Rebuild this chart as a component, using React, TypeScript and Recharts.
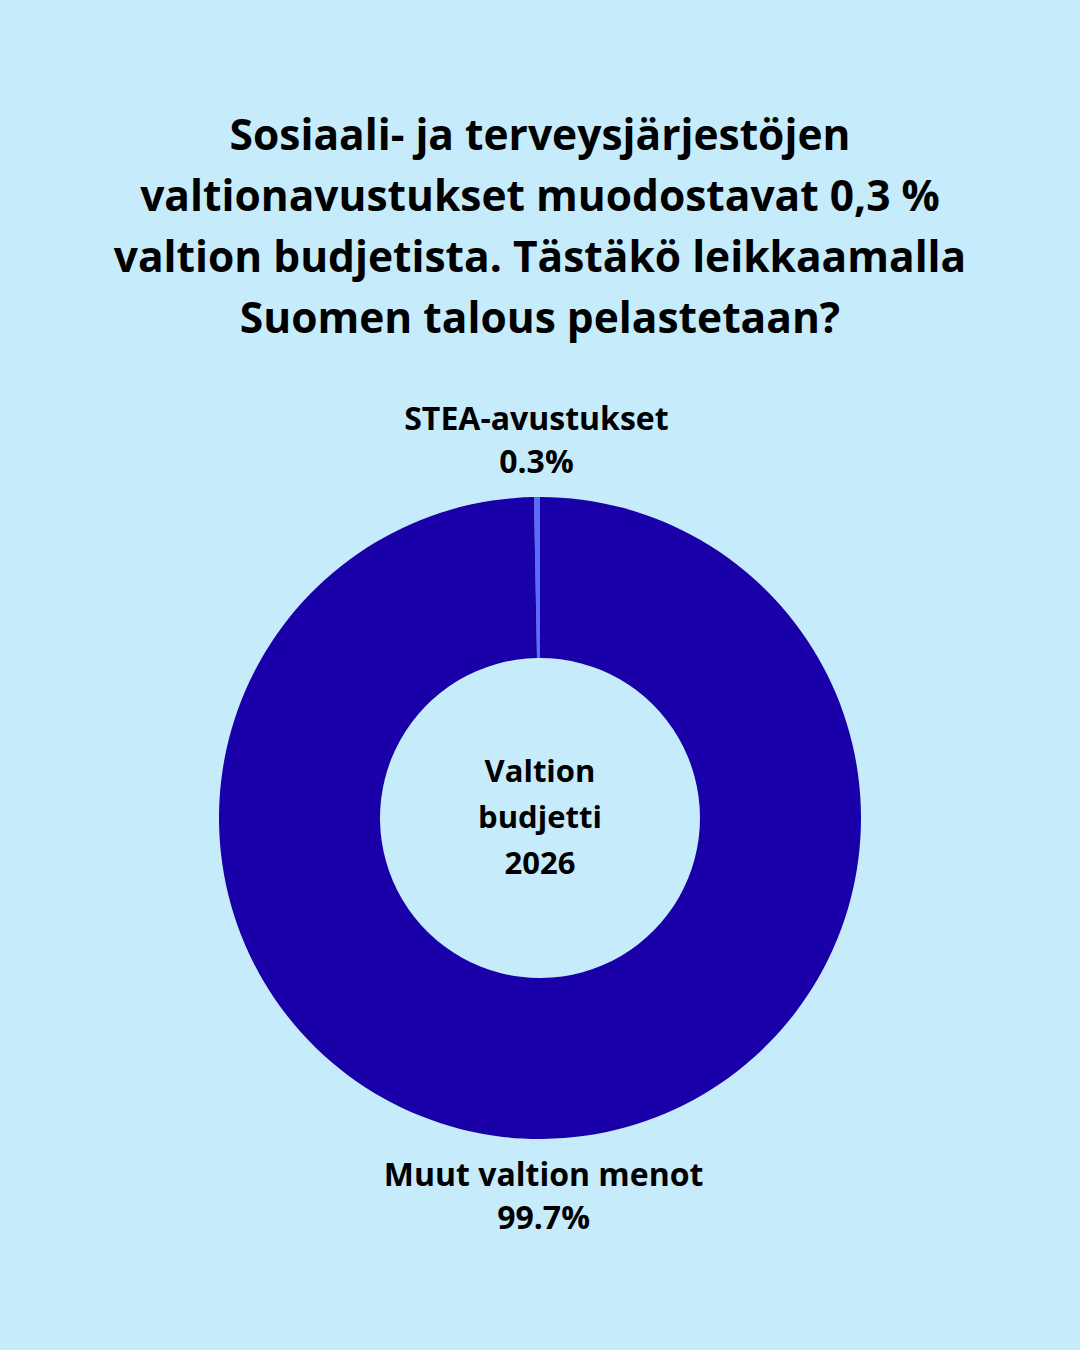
import React from 'react';
import { PieChart, Pie, Cell } from 'recharts';

const categories = ['STEA-avustukset', 'Muut valtion menot'];
const shares = [0.3, 99.7];
const sliceColors = ['#5a6cff', '#1a00a8'];

const titleLines = [
  'Sosiaali- ja terveysjärjestöjen',
  'valtionavustukset muodostavat 0,3 %',
  'valtion budjetista. Tästäkö leikkaamalla',
  'Suomen talous pelastetaan?',
];
const centerLines = ['Valtion', 'budjetti', '2026'];

const data = categories.map((name, i) => ({ name, value: shares[i] }));

const FONT = '"Open Sans", Lato, sans-serif';
const RAD = Math.PI / 180;

const renderLabel = (props: any) => {
  const { cx, cy, midAngle, outerRadius, name, value } = props;
  const r = outerRadius + 57;
  const x = cx + r * Math.cos(-midAngle * RAD);
  const y = cy + r * Math.sin(-midAngle * RAD);
  return (
    <text x={x} y={y} textAnchor="middle" fill="#000" fontFamily={FONT} fontWeight={700} fontSize={32}>
      <tspan x={x} dy={-10}>{name}</tspan>
      <tspan x={x} dy={43}>{`${value}%`}</tspan>
    </text>
  );
};

export default function App() {
  return (
    <div style={{ position: 'absolute', left: 0, top: 0, width: 1080, height: 1350, background: '#c6ebfa', overflow: 'hidden' }}>
      <div style={{ position: 'absolute', left: 0, top: 103, width: 1080, textAlign: 'center', fontFamily: FONT, fontWeight: 700, fontSize: 42.5, lineHeight: '61px', color: '#000' }}>
        {titleLines.map((l) => (
          <div key={l}>{l}</div>
        ))}
      </div>
      <div style={{ position: 'absolute', left: 0, top: 0 }}>
        <PieChart width={1080} height={1350} margin={{ top: 0, right: 0, bottom: 0, left: 0 }}>
          <Pie
            data={data}
            dataKey="value"
            nameKey="name"
            cx={540}
            cy={818}
            innerRadius={160}
            outerRadius={321}
            startAngle={90}
            endAngle={450}
            stroke="none"
            label={renderLabel}
            labelLine={false}
            isAnimationActive={false}
          >
            {data.map((d, i) => (
              <Cell key={d.name} fill={sliceColors[i]} />
            ))}
          </Pie>
        </PieChart>
      </div>
      <div style={{ position: 'absolute', left: 435, top: 747, width: 210, textAlign: 'center', fontFamily: FONT, fontWeight: 700, fontSize: 31, lineHeight: '46px', color: '#000' }}>
        {centerLines.map((l) => (
          <div key={l}>{l}</div>
        ))}
      </div>
    </div>
  );
}
